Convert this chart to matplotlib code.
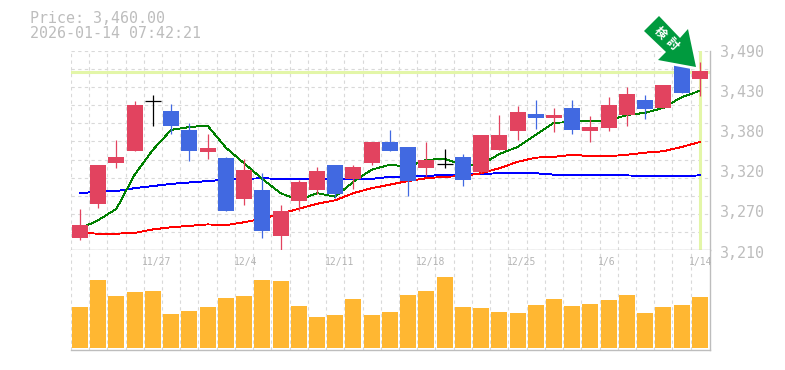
import matplotlib
matplotlib.use('Agg')
import matplotlib.pyplot as plt
from matplotlib.patches import Polygon
from matplotlib.ticker import FixedLocator, NullFormatter

plt.rcParams['font.family'] = ['DejaVu Sans Mono', 'Noto Sans CJK JP']

# candles (yen), one entry per session
body_hi = [3245, 3330, 3341, 3414, 3420, 3406, 3379, 3354, 3340, 3323, 3294, 3265, 3306, 3321, 3330, 3327, 3362, 3362, 3355, 3337, 3331, 3341, 3372, 3372, 3404, 3401, 3400, 3410, 3383, 3414, 3430, 3421, 3442, 3472, 3462]
body_lo = [3227, 3275, 3332, 3349, 3420, 3385, 3349, 3348, 3265, 3282, 3237, 3230, 3279, 3294, 3289, 3310, 3332, 3349, 3307, 3325, 3331, 3309, 3320, 3351, 3377, 3396, 3396, 3379, 3377, 3382, 3400, 3408, 3410, 3431, 3451]
highs = [3268, 3330, 3365, 3420, 3428, 3415, 3389, 3373, 3341, 3338, 3318, 3273, 3309, 3327, 3330, 3330, 3362, 3379, 3355, 3362, 3352, 3345, 3372, 3400, 3413, 3421, 3410, 3421, 3399, 3425, 3439, 3428, 3442, 3472, 3475]
lows = [3224, 3269, 3325, 3349, 3385, 3373, 3335, 3338, 3265, 3273, 3227, 3210, 3265, 3289, 3283, 3296, 3330, 3349, 3286, 3314, 3325, 3300, 3318, 3351, 3365, 3380, 3376, 3373, 3362, 3377, 3385, 3394, 3410, 3431, 3427]
candle_kind = list('RRRRKBBRBRBRRRBRRBBRKBRRRBRBRRRBRBR')

ma_green = [3240, 3252, 3268, 3316, 3351, 3379, 3383, 3385, 3354, 3332, 3310, 3290, 3280, 3290, 3285, 3306, 3323, 3330, 3327, 3337, 3338, 3330, 3330, 3345, 3355, 3372, 3389, 3390, 3392, 3392, 3400, 3403, 3410, 3425, 3434]
ma_blue = [3290, 3292, 3293, 3297, 3300, 3303, 3305, 3307, 3309, 3310, 3311, 3310, 3310, 3310, 3310, 3310, 3310, 3313, 3313, 3314, 3316, 3316, 3317, 3318, 3318, 3318, 3316, 3315, 3315, 3315, 3315, 3314, 3314, 3314, 3315]
ma_red = [3234, 3233, 3233, 3234, 3239, 3242, 3244, 3246, 3245, 3249, 3254, 3261, 3268, 3275, 3280, 3290, 3297, 3302, 3307, 3311, 3313, 3314, 3318, 3325, 3334, 3340, 3341, 3344, 3342, 3342, 3344, 3347, 3349, 3355, 3362]

volume = [41, 68, 52, 56, 57, 34, 37, 41, 50, 52, 68, 67, 42, 31, 33, 49, 33, 36, 53, 57, 71, 41, 40, 36, 35, 43, 49, 42, 44, 48, 53, 35, 41, 43, 51]

price_now = 3460
price_labels = ['3,490', '3,430', '3,380', '3,320', '3,270', '3,210']
date_labels = ['11/27', '12/4', '12/11', '12/18', '12/25', '1/6', '1/14']
date_index = [4, 9, 14, 19, 24, 29, 34]

W, H = 785, 370
COLORS = {'R': '#e2435f', 'B': '#4169e1', 'K': 'black'}
GREY = '#bdbdbd'
GRID = '#d9d9d9'
LIME = '#e3f6a8'
DASH = (0, (3, 3))


def px_axes(fig, left, top, right, bottom):
    return fig.add_axes([left / W, 1 - bottom / H, (right - left) / W, (bottom - top) / H])


fig = plt.figure(figsize=(W / 100, H / 100), dpi=100)
ax = px_axes(fig, 70.5, 51, 709.5, 250)
ax_vol = px_axes(fig, 70.5, 250, 709.5, 350)

grid_x = [i - 0.5 for i in range(35)]

for a in (ax, ax_vol):
    a.set_xlim(-0.52, 34.53)
    a.xaxis.set_major_locator(FixedLocator(grid_x))
    a.xaxis.set_major_formatter(NullFormatter())
    a.tick_params(length=0)
    a.set_axisbelow(True)
    a.grid(True, axis='x', color=GRID, linestyle=DASH, linewidth=0.8)
    for side in ('left', 'top'):
        a.spines[side].set_visible(False)
    for side in ('right', 'bottom'):
        a.spines[side].set_color(GREY)
        a.spines[side].set_linewidth(1.0)

# price panel
ax.set_ylim(3210, 3490)
ax.yaxis.set_major_locator(FixedLocator([3210 + 280 * k / 11 for k in range(12)]))
ax.yaxis.set_major_formatter(NullFormatter())
ax.grid(True, axis='y', color=GRID, linestyle=DASH, linewidth=0.8)

ax.axhline(price_now, color=LIME, linewidth=2.2, zorder=1)
ax.axvline(34, color=LIME, linewidth=2.2, zorder=1)

xs = list(range(35))
ax.plot(xs, ma_blue, color='#0000ff', linewidth=0.65, zorder=2, antialiased=False)
ax.plot(xs, ma_red, color='#ff0000', linewidth=0.65, zorder=2, antialiased=False)
ax.plot(xs, ma_green, color='#008000', linewidth=0.65, zorder=2, antialiased=False)

for i in xs:
    color = COLORS[candle_kind[i]]
    ax.vlines(i, lows[i], highs[i], color=color, linewidth=0.9, zorder=3)
    if candle_kind[i] == 'K':
        ax.hlines(body_hi[i], i - 0.44, i + 0.44, color=color, linewidth=0.9, zorder=3)
    else:
        ax.bar(i, body_hi[i] - body_lo[i], bottom=body_lo[i], width=0.88, color=color, zorder=4)

# volume panel
ax_vol.set_ylim(-2, 98)
ax_vol.set_yticks([])
ax_vol.bar(xs, volume, width=0.88, color='#ffb732', zorder=3)

for label, idx in zip(date_labels, date_index):
    ax_vol.annotate(label, xy=(idx, 98), xycoords='data', xytext=(-7.6, -8.8), textcoords='offset points',
                    ha='left', va='center', fontsize=7, color='#b4b4b4', annotation_clip=False, zorder=5)

# the six price labels sit 40px apart, not on their exact values
for k, label in enumerate(price_labels):
    y_px = 52.5 + 40.1 * k
    fig.text(720 / W, 1 - y_px / H, label, fontsize=10.8, color=GREY, ha='left', va='center')

fig.text(30 / W, 1 - 18.5 / H, 'Price: 3,460.00', fontsize=10.8, color=GREY, va='center', ha='left')
fig.text(30 / W, 1 - 33 / H, '2026-01-14 07:42:21', fontsize=10.8, color=GREY, va='center', ha='left')

# green arrow badge, white halo cuts into the candle under it
arrow_px = [(659, 16), (680, 38), (688, 29), (696, 67), (658, 60), (666, 52), (644, 31)]
arrow_xy = [(x / W, 1 - y / H) for x, y in arrow_px]
fig.add_artist(Polygon(arrow_xy, closed=True, transform=fig.transFigure, facecolor='white',
                       edgecolor='white', linewidth=4.0, zorder=10))
fig.add_artist(Polygon(arrow_xy, closed=True, transform=fig.transFigure, facecolor='#009a3e',
                       edgecolor='none', zorder=11))
fig.text(660 / W, 1 - 33 / H, '検', fontsize=8.6, fontweight='bold', color='white', rotation=-45,
         ha='center', va='center', rotation_mode='anchor', zorder=12)
fig.text(672 / W, 1 - 44 / H, '討', fontsize=8.6, fontweight='bold', color='white', rotation=-45,
         ha='center', va='center', rotation_mode='anchor', zorder=12)

fig.savefig('out.png', dpi=100)
